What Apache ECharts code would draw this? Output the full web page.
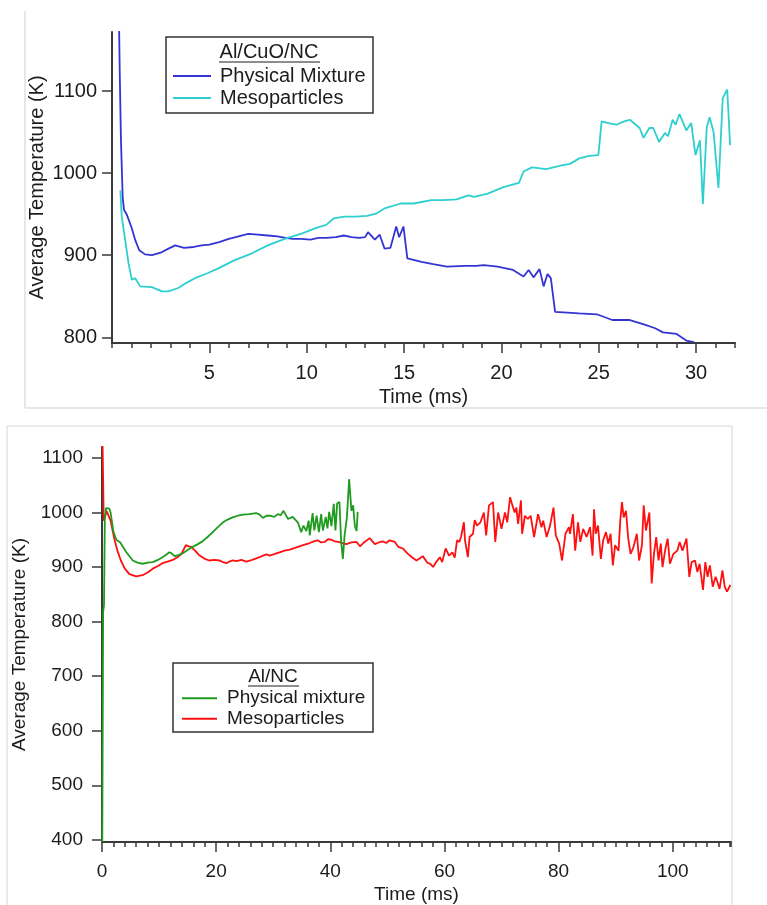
<!DOCTYPE html>
<html>
<head>
<meta charset="utf-8">
<script src="https://cdn.jsdelivr.net/npm/echarts@6.0.0/dist/echarts.min.js"></script>
<style>
  html, body { margin: 0; padding: 0; background: #fff; }
  #chart { width: 767px; height: 905px; }
</style>
</head>
<body>
<div id="chart"></div>
<script>
// ---- data: [time (ms), average temperature (K)] ----

// top panel: Al/CuO/NC
var cuoPhysical = [
  [0.36, 1185], [0.40, 1120], [0.46, 1040], [0.55, 970], [0.62, 955], [0.75, 950],
  [1.0, 934], [1.2, 918], [1.4, 906], [1.7, 901], [2.05, 900], [2.5, 903], [2.9, 908],
  [3.25, 912], [3.7, 909], [4.2, 910], [4.6, 912], [5.0, 913], [5.5, 916], [6.0, 920],
  [6.5, 923], [7.0, 926], [7.5, 925], [8.0, 924], [8.5, 923], [8.9, 921], [9.3, 920],
  [9.7, 920], [10.2, 919], [10.6, 921], [11.0, 921], [11.5, 922], [11.9, 924], [12.3, 922],
  [12.7, 921], [13.0, 922], [13.15, 928], [13.5, 919], [13.75, 925], [14.0, 908], [14.3, 909],
  [14.6, 935], [14.75, 922], [14.97, 935], [15.17, 896], [15.9, 892], [16.5, 889], [17.2, 886],
  [18.1, 887], [18.7, 887], [19.1, 888], [19.8, 886], [20.6, 882], [21.14, 874], [21.4, 882],
  [21.65, 873], [21.96, 883], [22.17, 862], [22.37, 877], [22.54, 872], [22.76, 831], [23.4, 830],
  [24.0, 829], [24.9, 828], [25.7, 821], [26.6, 821], [27.4, 815], [27.9, 811], [28.3, 806],
  [29.0, 804], [29.5, 796], [29.9, 794]
];
var cuoMeso = [
  [0.43, 979], [0.5, 947], [0.68, 918], [0.85, 890], [1.02, 870], [1.19, 872], [1.45, 862],
  [2.05, 861], [2.56, 856], [2.9, 856], [3.4, 860], [3.8, 866], [4.26, 872], [4.9, 878],
  [5.46, 884], [6.3, 894], [7.16, 902], [8.0, 912], [8.87, 920], [9.7, 926], [10.57, 934],
  [11.0, 937], [11.4, 945], [11.93, 947], [12.5, 947], [13.1, 948], [13.6, 951], [14.0, 957],
  [14.83, 963], [15.5, 963], [16.4, 967], [17.0, 967], [17.7, 968], [18.3, 973], [18.6, 971],
  [19.3, 975], [20.1, 983], [20.9, 988], [21.14, 1002], [21.57, 1007], [22.3, 1005], [23.2, 1010],
  [23.5, 1011], [24.0, 1018], [24.5, 1021], [24.98, 1022], [25.15, 1063], [25.5, 1061],
  [25.9, 1059], [26.3, 1063], [26.6, 1065], [27.1, 1055], [27.3, 1043], [27.6, 1055],
  [27.8, 1055], [28.1, 1038], [28.4, 1049], [28.56, 1045], [28.8, 1065], [28.95, 1059],
  [29.15, 1072], [29.5, 1052], [29.75, 1061], [29.97, 1022], [30.2, 1040], [30.35, 962],
  [30.55, 1056], [30.7, 1068], [30.9, 1050], [31.15, 982], [31.37, 1091], [31.6, 1102],
  [31.75, 1034]
];

// bottom panel: Al/NC
var ncPhysical = [
  [0.05, 396], [0.2, 818], [0.35, 830], [0.5, 990], [0.7, 1008], [1.3, 1007], [1.5, 1000],
  [2.0, 965], [2.5, 950], [3.2, 945], [4.2, 928], [5.4, 912], [6.2, 908], [7.1, 906],
  [8.0, 908], [8.9, 909], [9.8, 913], [10.6, 918], [11.3, 923], [11.8, 927], [12.2, 925],
  [12.7, 920], [13.4, 922], [14.1, 925], [15.0, 931], [15.9, 937], [16.8, 942], [17.6, 947],
  [18.5, 955], [19.4, 964], [20.3, 973], [21.2, 982], [22.0, 987], [22.9, 991], [23.8, 994],
  [24.7, 996], [25.8, 997], [27.0, 999], [27.6, 996], [28.2, 990], [28.8, 994], [29.4, 994],
  [30.2, 992], [30.8, 997], [31.3, 995], [31.8, 1003], [32.6, 988], [33.4, 992], [34.3, 982],
  [34.9, 964], [35.3, 976], [35.8, 966], [36.2, 985], [36.4, 958], [36.9, 999], [37.2, 967],
  [37.6, 994], [38.0, 964], [38.4, 997], [38.7, 967], [39.2, 992], [39.5, 971], [39.8, 1001],
  [40.2, 975], [40.6, 1016], [40.9, 967], [41.2, 1017], [41.6, 1019], [41.9, 946], [42.2, 915],
  [42.5, 958], [42.9, 990], [43.3, 1061], [43.7, 1003], [44.0, 1013], [44.3, 975], [44.6, 966],
  [44.8, 1001]
];
var ncMeso = [
  [0.1, 1125], [0.2, 1060], [0.3, 985], [0.5, 990], [0.8, 1003], [1.1, 1002], [1.5, 985],
  [2.15, 952], [2.7, 930], [3.3, 912], [4.0, 897], [4.8, 887], [6.0, 883], [7.1, 885],
  [8.0, 890], [8.9, 897], [9.8, 902], [10.6, 907], [11.5, 910], [12.4, 913], [13.2, 918],
  [13.9, 924], [14.4, 934], [14.7, 940], [15.2, 938], [15.6, 937], [16.3, 930], [17.1, 921],
  [18.0, 915], [18.8, 912], [19.7, 913], [20.6, 912], [21.2, 909], [21.8, 907], [22.3, 910],
  [22.9, 912], [23.6, 911], [24.4, 913], [25.3, 910], [26.0, 912], [26.8, 915], [27.6, 918],
  [28.2, 921], [28.8, 923], [29.4, 921], [30.3, 924], [31.1, 927], [32.0, 930], [32.9, 932],
  [33.8, 935], [34.6, 938], [35.5, 941], [36.4, 944], [37.1, 947], [37.8, 949], [38.4, 945],
  [39.0, 946], [39.6, 951], [40.2, 950], [40.8, 947], [41.4, 946], [42.1, 944], [42.8, 942],
  [43.7, 945], [44.6, 946], [45.2, 938], [46.0, 946], [46.9, 953], [47.8, 942], [48.5, 945],
  [49.2, 947], [49.8, 944], [50.4, 949], [51.3, 946], [51.9, 937], [52.7, 934], [53.5, 925],
  [54.3, 918], [55.1, 912], [55.7, 916], [56.2, 920], [57.0, 908], [57.6, 905], [58.0, 900],
  [58.6, 910], [59.2, 918], [59.6, 909], [60.2, 934], [60.8, 921], [61.4, 927], [61.8, 917],
  [62.2, 949], [62.6, 946], [62.9, 955], [63.4, 982], [63.6, 949], [64.1, 918], [64.4, 955],
  [65.0, 961], [65.3, 986], [65.7, 976], [66.3, 982], [66.9, 1000], [67.3, 958], [67.8, 1013],
  [68.5, 1019], [68.9, 946], [69.4, 1000], [70.0, 970], [70.6, 1000], [71.0, 982], [71.5, 1028],
  [71.9, 1013], [72.3, 1000], [72.6, 1009], [72.9, 979], [73.4, 1022], [73.6, 961], [74.1, 994],
  [74.6, 988], [75.1, 994], [75.7, 955], [76.4, 997], [77.0, 973], [77.3, 985], [77.9, 955],
  [78.5, 976], [79.1, 1009], [79.5, 958], [80.1, 943], [80.6, 912], [81.2, 961], [81.8, 973],
  [82.0, 961], [82.5, 997], [82.9, 930], [83.4, 982], [83.8, 946], [84.3, 970], [84.9, 955],
  [85.5, 973], [85.95, 921], [86.2, 1006], [86.5, 961], [86.9, 976], [87.4, 915], [87.8, 949],
  [88.3, 964], [88.7, 943], [89.1, 961], [89.5, 903], [89.9, 940], [90.5, 930], [90.8, 985],
  [91.1, 1019], [91.4, 991], [91.8, 1003], [92.2, 952], [92.6, 924], [93.1, 936], [93.7, 961],
  [94.1, 912], [94.6, 940], [94.9, 1013], [95.3, 967], [95.9, 1000], [96.3, 870], [96.7, 924],
  [97.1, 955], [97.5, 912], [97.9, 943], [98.2, 900], [98.7, 933], [99.1, 952], [99.5, 906],
  [100.1, 924], [100.8, 930], [101.2, 946], [101.7, 930], [102.4, 952], [102.9, 882],
  [103.3, 909], [103.9, 912], [104.3, 891], [104.7, 906], [105.3, 858], [105.7, 909],
  [106.1, 882], [106.5, 903], [107.0, 864], [107.5, 882], [107.8, 873], [108.2, 860],
  [108.7, 894], [109.1, 864], [109.5, 855], [110.1, 867]
];

// tick labels
var topTimeTicks = [5, 10, 15, 20, 25, 30];
var topTempTicks = [800, 900, 1000, 1100];
var bottomTimeTicks = [0, 20, 40, 60, 80, 100];
var bottomTempTicks = [400, 500, 600, 700, 800, 900, 1000, 1100];

var FONT = 'Liberation Sans, Arial, Helvetica, sans-serif';
var AXIS = '#3a3a3a';
var TXT = '#1c1c1c';

function plain(v) { return String(v); }

function mainX(grid, min, max, step, ticks, size) {
  return {
    type: 'value', gridIndex: grid, min: min, max: max, interval: step,
    name: 'Time (ms)', nameLocation: 'middle', nameGap: size === 20 ? 44 : 43,
    nameMoveOverlap: false,
    nameTextStyle: { fontFamily: FONT, fontSize: size, color: TXT },
    axisLine: { show: true, onZero: false, lineStyle: { color: AXIS, width: 2 } },
    axisTick: { show: true, length: 10, customValues: ticks, lineStyle: { color: AXIS, width: 1.5 } },
    axisLabel: { customValues: ticks, formatter: plain, margin: 20, fontFamily: FONT, fontSize: size, color: TXT },
    splitLine: { show: false }
  };
}
function minorX(grid, min, max, step) {
  return {
    type: 'value', gridIndex: grid, position: 'bottom', min: min, max: max, interval: step,
    axisLine: { show: false, onZero: false },
    axisTick: { show: true, length: 5, lineStyle: { color: AXIS, width: 1.5 } },
    axisLabel: { show: false }, splitLine: { show: false }
  };
}
function tempY(grid, min, max, ticks, size, gap, margin) {
  return {
    type: 'value', gridIndex: grid, min: min, max: max,
    name: 'Average Temperature (K)', nameLocation: 'middle', nameGap: gap,
    nameMoveOverlap: false,
    nameTextStyle: { fontFamily: FONT, fontSize: size, color: TXT },
    axisLine: { show: true, onZero: false, lineStyle: { color: AXIS, width: 2 } },
    axisTick: { show: true, length: 10, customValues: ticks, lineStyle: { color: AXIS, width: 1.5 } },
    axisLabel: { customValues: ticks, formatter: plain, margin: margin, fontFamily: FONT, fontSize: size, color: TXT },
    splitLine: { show: false }
  };
}
function curve(name, data, color, xi, yi) {
  return {
    name: name, type: 'line', data: data, xAxisIndex: xi, yAxisIndex: yi,
    symbol: 'none', showSymbol: false, clip: true, silent: true,
    lineStyle: { color: color, width: 1.8 }, itemStyle: { color: color }
  };
}
function stripTag(name) { return name.split(' (')[0]; }

var chart = echarts.init(document.getElementById('chart'), null, { renderer: 'canvas' });
chart.setOption({
  animation: false,
  backgroundColor: '#fff',
  grid: [
    { left: 112, top: 32, width: 623, height: 311 },
    { left: 102, top: 447, width: 629, height: 396 }
  ],
  xAxis: [
    mainX(0, 0, 32, 5, topTimeTicks, 20),
    minorX(0, 0, 32, 1),
    mainX(1, 0, 110.2, 20, bottomTimeTicks, 19),
    minorX(1, 0, 110.2, 2)
  ],
  yAxis: [
    tempY(0, 793, 1172, topTempTicks, 20, 65, 15),
    tempY(1, 396, 1120, bottomTempTicks, 19, 73, 19)
  ],
  legend: [
    {
      orient: 'vertical', left: 173, top: 65, padding: 0, itemGap: 0,
      icon: 'rect', itemWidth: 38, itemHeight: 1.8,
      data: ['Physical Mixture (Al/CuO/NC)', 'Mesoparticles (Al/CuO/NC)'],
      formatter: stripTag, selectedMode: false,
      textStyle: { fontFamily: FONT, fontSize: 20, color: TXT, lineHeight: 22, padding: [0, 0, 0, 4] }
    },
    {
      orient: 'vertical', left: 182, top: 688, padding: 0, itemGap: 0,
      icon: 'rect', itemWidth: 35, itemHeight: 1.8,
      data: ['Physical mixture (Al/NC)', 'Mesoparticles (Al/NC)'],
      formatter: stripTag, selectedMode: false,
      textStyle: { fontFamily: FONT, fontSize: 19, color: TXT, lineHeight: 20.5, padding: [0, 0, 0, 5] }
    }
  ],
  graphic: [
    // panel frames
    { type: 'line', shape: { x1: 25, y1: 11, x2: 25, y2: 408 }, style: { stroke: '#cfcfcf', lineWidth: 1 } },
    { type: 'line', shape: { x1: 25, y1: 408, x2: 767, y2: 408 }, style: { stroke: '#cfcfcf', lineWidth: 1 } },
    { type: 'line', shape: { x1: 7, y1: 426, x2: 732, y2: 426 }, style: { stroke: '#d6d6d6', lineWidth: 1 } },
    { type: 'line', shape: { x1: 7, y1: 426, x2: 7, y2: 905 }, style: { stroke: '#d6d6d6', lineWidth: 1 } },
    { type: 'line', shape: { x1: 732, y1: 426, x2: 732, y2: 905 }, style: { stroke: '#d6d6d6', lineWidth: 1 } },
    // legend boxes and titles
    { type: 'rect', shape: { x: 166, y: 37, width: 207, height: 76 }, style: { fill: 'none', stroke: '#333', lineWidth: 1.5 } },
    { type: 'text', x: 269, y: 52, style: { text: 'Al/CuO/NC', fill: TXT, font: '20px ' + FONT, align: 'center', verticalAlign: 'middle' } },
    { type: 'line', shape: { x1: 219, y1: 62, x2: 320, y2: 62 }, style: { stroke: TXT, lineWidth: 1 } },
    { type: 'rect', shape: { x: 173, y: 663, width: 200, height: 69 }, style: { fill: 'none', stroke: '#333', lineWidth: 1.5 } },
    { type: 'text', x: 273, y: 677, style: { text: 'Al/NC', fill: TXT, font: '19px ' + FONT, align: 'center', verticalAlign: 'middle' } },
    { type: 'line', shape: { x1: 248, y1: 686, x2: 299, y2: 686 }, style: { stroke: TXT, lineWidth: 1 } }
  ],
  series: [
    curve('Physical Mixture (Al/CuO/NC)', cuoPhysical, '#3434d4', 0, 0),
    curve('Mesoparticles (Al/CuO/NC)', cuoMeso, '#2dcfcf', 0, 0),
    curve('Mesoparticles (Al/NC)', ncMeso, '#ff1010', 2, 1),
    curve('Physical mixture (Al/NC)', ncPhysical, '#1f9c1f', 2, 1)
  ]
});
</script>
</body>
</html>
